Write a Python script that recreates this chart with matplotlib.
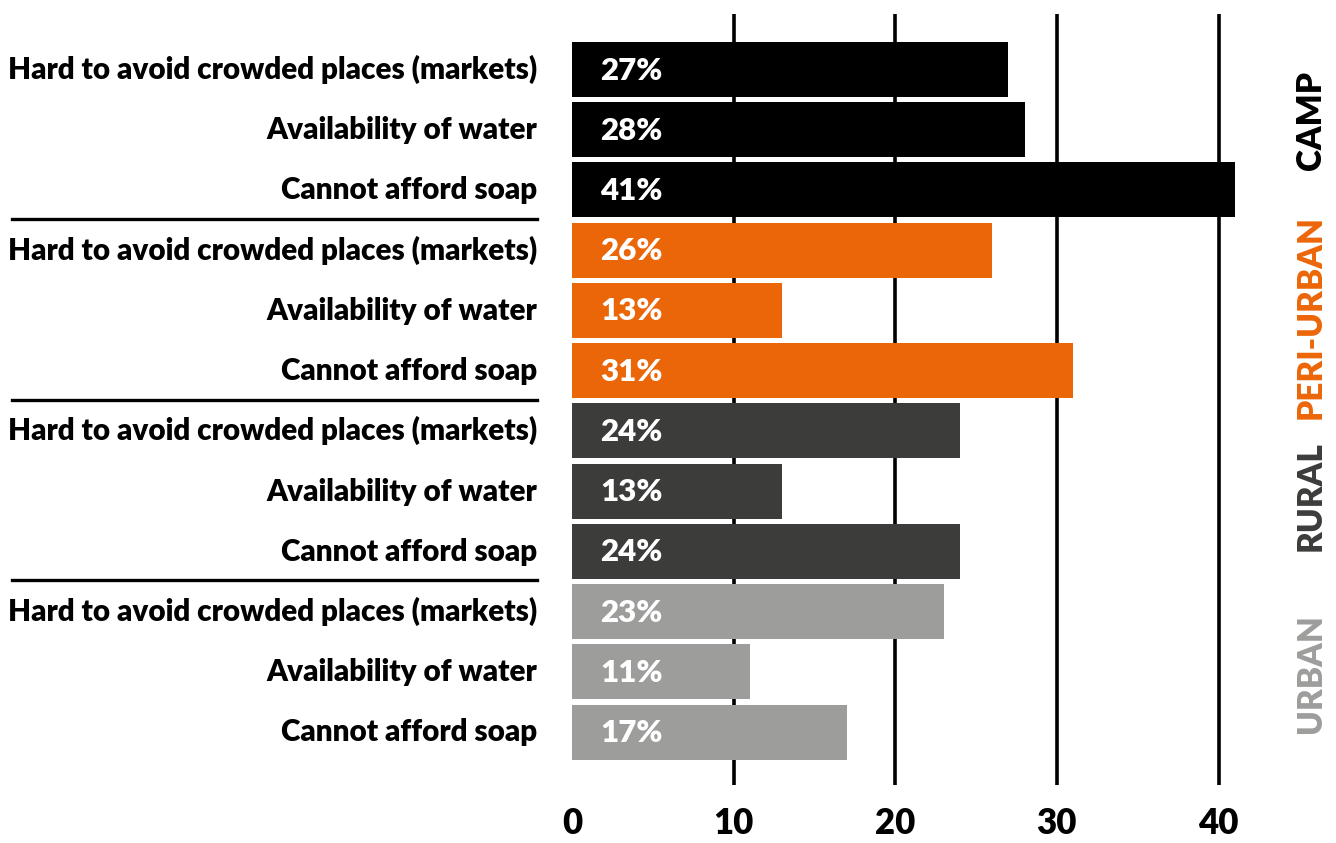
import matplotlib
matplotlib.use("Agg")
import matplotlib.pyplot as plt
from matplotlib.lines import Line2D

categories = ["Hard to avoid crowded places (markets)", "Availability of water", "Cannot afford soap"]
groups = ["CAMP", "PERI-URBAN", "RURAL", "URBAN"]
values = {
    "CAMP": [27, 28, 41],
    "PERI-URBAN": [26, 13, 31],
    "RURAL": [24, 13, 24],
    "URBAN": [23, 11, 17],
}
colors = {"CAMP": "#000000", "PERI-URBAN": "#EB6608", "RURAL": "#3C3C3B", "URBAN": "#9D9D9C"}
xticks = [0, 10, 20, 30, 40]

W, H = 1336, 843
fig = plt.figure(figsize=(W / 100, H / 100), dpi=100)
x0, x1 = 572, 1250
ytop, ybot = 14, 785
ax = fig.add_axes([x0 / W, 1 - ybot / H, (x1 - x0) / W, (ybot - ytop) / H])
px_per_unit = (1218.5 - 572) / 40
ax.set_xlim(0, (x1 - x0) / px_per_unit)
pitch = (732 - 69.5) / 11
ax.set_ylim(11 + (ybot - 732) / pitch, -(69.5 - ytop) / pitch)

font = ["Lato", "DejaVu Sans"]
wt = "heavy"
for t in xticks[1:]:
    ax.axvline(t, color="black", lw=2.6, zorder=0)

row = 0
for g in groups:
    for i, c in enumerate(categories):
        v = values[g][i]
        ax.barh(row, v, height=55 / pitch, color=colors[g], zorder=2)
        ax.text(1.75, row + 10 / pitch, f"{v}%", color="white", fontsize=22.5, fontweight=wt,
                va="baseline", ha="left", family=font, zorder=3)
        fig.text(537 / W, 1 - (69.5 + row * pitch + 9.5) / H, c, ha="right", va="baseline",
                 fontsize=21.3, fontweight=wt, family=font)
        row += 1

ax.set_yticks([])
ax.set_xticks([])
for s in ax.spines.values():
    s.set_visible(False)

for t in xticks:
    fig.text((572 + t * px_per_unit) / W, 1 - 834 / H, str(t), ha="center", va="baseline",
             fontsize=25, fontweight=wt, family=font)

for k in range(1, 4):
    yb = 1 - (69.5 + (3 * k - 0.52) * pitch) / H
    fig.add_artist(Line2D([12 / W, 537 / W], [yb, yb], color="black", lw=2.4))

label_y = [120, 317, 496, 674]
for g, yy in zip(groups, label_y):
    fig.text(1311 / W, 1 - yy / H, g, rotation=90, ha="center", va="center",
             fontsize=24, fontweight=wt, color=colors[g], family=font)

fig.savefig("out.png", dpi=100)
